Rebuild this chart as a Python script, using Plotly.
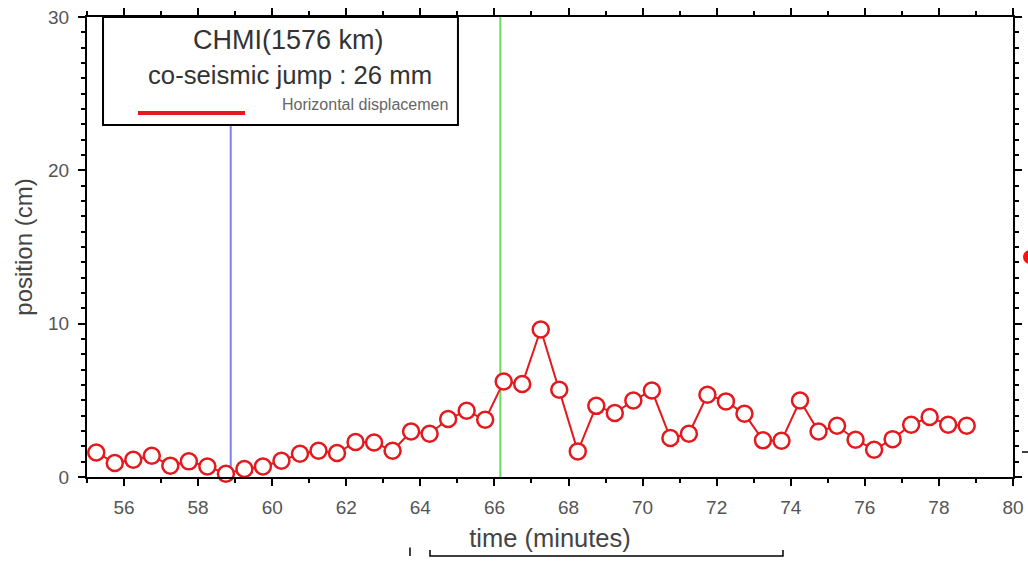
import plotly.graph_objects as go

# ---- data ----
time_min = [55.25, 55.75, 56.25, 56.75, 57.25, 57.75, 58.25, 58.75, 59.25, 59.75,
            60.25, 60.75, 61.25, 61.75, 62.25, 62.75, 63.25, 63.75, 64.25, 64.75,
            65.25, 65.75, 66.25, 66.75, 67.25, 67.75, 68.25, 68.75, 69.25, 69.75,
            70.25, 70.75, 71.25, 71.75, 72.25, 72.75, 73.25, 73.75, 74.25, 74.75,
            75.25, 75.75, 76.25, 76.75, 77.25, 77.75, 78.25, 78.75]
position_cm = [1.60, 0.91, 1.13, 1.39, 0.74, 1.02, 0.69, 0.21, 0.52, 0.69,
               1.06, 1.52, 1.71, 1.56, 2.28, 2.25, 1.71, 2.97, 2.82, 3.78,
               4.32, 3.73, 6.23, 6.06, 9.62, 5.69, 1.67, 4.64, 4.17, 4.99,
               5.64, 2.54, 2.82, 5.36, 4.93, 4.12, 2.39, 2.36, 4.99, 2.97,
               3.34, 2.43, 1.78, 2.47, 3.41, 3.91, 3.41, 3.34]
blue_event_time = 58.88
green_event_time = 66.16
station_title = "CHMI(1576 km)"
jump_text = "co-seismic jump : 26 mm"
series_name = "Horizontal displacemen"
x_range = [55, 80]
y_range = [0, 30]

RED = "#e3191e"
FONT = "Liberation Sans, Arial, sans-serif"

fig = go.Figure()
fig.add_trace(go.Scatter(
    x=time_min, y=position_cm, mode="lines+markers", name=series_name,
    line=dict(color=RED, width=2),
    marker=dict(symbol="circle", size=16, color="white",
                line=dict(color=RED, width=2.5)),
    cliponaxis=False, showlegend=False,
))

shapes = [
    dict(type="line", xref="x", yref="y", x0=blue_event_time, x1=blue_event_time,
         y0=y_range[0], y1=y_range[1], line=dict(color="#7f7ff0", width=2), layer="below"),
    dict(type="line", xref="x", yref="y", x0=green_event_time, x1=green_event_time,
         y0=y_range[0], y1=y_range[1], line=dict(color="#66dd5e", width=2), layer="below"),
    # legend box
    dict(type="rect", xref="paper", yref="paper", x0=0.0173, x1=0.4006, y0=0.7652, y1=1.0,
         fillcolor="white", line=dict(color="black", width=2), layer="above"),
    dict(type="line", xref="paper", yref="paper", x0=0.0551, x1=0.1706, y0=0.7913, y1=0.7913,
         line=dict(color=RED, width=4), layer="above"),
    # edge artefacts of the original picture
    dict(type="path", xref="paper", yref="paper",
         path="M 0.3704 -0.1587 L 0.3704 -0.1717 L 0.7516 -0.1717 L 0.7516 -0.1587",
         line=dict(color="black", width=1.5), layer="above"),
    dict(type="line", xref="paper", yref="paper", x0=0.3488, x1=0.3488, y0=-0.1530, y1=-0.1717,
         line=dict(color="black", width=1.5), layer="above"),
    dict(type="circle", xref="paper", yref="paper", x0=1.0108, x1=1.026, y0=0.4630, y1=0.4934,
         fillcolor="#ff1010", line=dict(width=0), layer="above"),
    dict(type="line", xref="paper", yref="paper", x0=1.0097, x1=1.0162, y0=0.0543, y1=0.0543,
         line=dict(color="black", width=1.5), layer="above"),
]

annotations = [
    dict(text=station_title, xref="paper", yref="paper", x=0.2181, y=0.95,
         showarrow=False, xanchor="center", yanchor="middle",
         font=dict(family=FONT, size=27, color="#333333")),
    dict(text=jump_text, xref="paper", yref="paper", x=0.2192, y=0.8739,
         showarrow=False, xanchor="center", yanchor="middle",
         font=dict(family=FONT, size=25.7, color="#333333")),
    dict(text=series_name, xref="paper", yref="paper", x=0.2084, y=0.8087,
         showarrow=False, xanchor="left", yanchor="middle",
         font=dict(family=FONT, size=16, color="#666666")),
]

axis_common = dict(
    showline=True, linecolor="black", linewidth=2, mirror="ticks",
    ticks="outside", ticklen=7, tickwidth=1.5, tickcolor="black",
    showgrid=False, zeroline=False, automargin=False,
    tickfont=dict(family=FONT, size=19, color="#555555"),
)

fig.update_layout(
    width=1028, height=561,
    margin=dict(l=87, r=15, t=17, b=84),
    paper_bgcolor="white", plot_bgcolor="white",
    font=dict(family=FONT),
    shapes=shapes, annotations=annotations,
    xaxis=dict(range=x_range, tick0=0, dtick=2, ticklabelstandoff=5,
               minor=dict(dtick=1, ticks="outside", ticklen=4, tickcolor="black"),
               title=dict(text="time (minutes)", standoff=12,
                          font=dict(family=FONT, size=25.5, color="#444444")),
               **axis_common),
    yaxis=dict(range=y_range, tick0=0, dtick=10, ticklabelstandoff=5,
               minor=dict(dtick=1, ticks="outside", ticklen=4, tickcolor="black"),
               title=dict(text="position (cm)", standoff=9,
                          font=dict(family=FONT, size=24, color="#444444")),
               **axis_common),
)

fig.write_html("out.html")
